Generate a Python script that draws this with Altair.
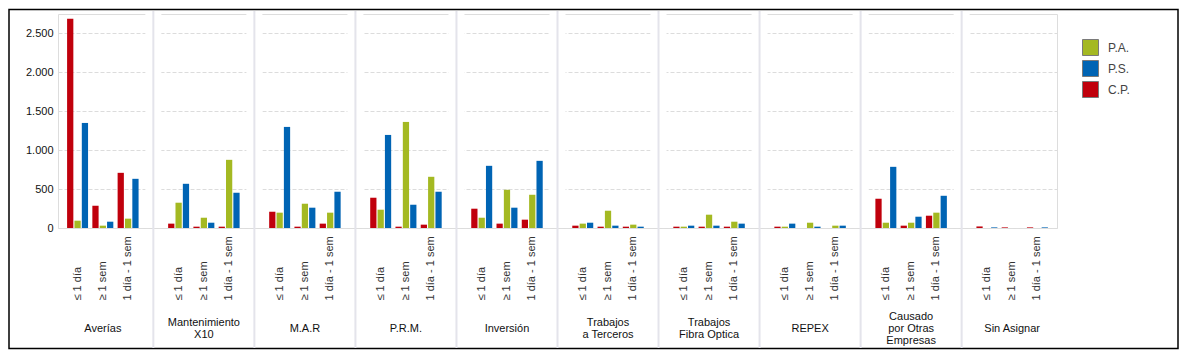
import altair as alt
import pandas as pd

categories = ["Averías", "Mantenimiento|X10", "M.A.R", "P.R.M.", "Inversión",
              "Trabajos|a Terceros", "Trabajos|Fibra Optica", "REPEX",
              "Causado|por Otras|Empresas", "Sin Asignar"]
periods = ["≤ 1 día", "≥ 1 sem", "1 día - 1 sem"]
bar_order = ["C.P.", "P.A.", "P.S."]
legend_order = ["P.A.", "P.S.", "C.P."]
legend_colors = ["#a4b922", "#0064b4", "#c0000c"]

# values per category, in period order (≤ 1 día, ≥ 1 sem, 1 día - 1 sem)
cp_values = [2690, 286, 709,  56, 17, 17,  209, 17, 56,  389, 17, 43,
             248, 56, 107,  30, 17, 17,  17, 17, 17,  17, 0, 0,
             376, 30, 158,  20, 8, 8]
pa_values = [94, 30, 120,  325, 132, 876,  197, 312, 197,  235, 1363, 658,
             132, 491, 427,  56, 222, 43,  17, 171, 81,  17, 68, 30,
             68, 68, 197,  0, 0, 0]
ps_values = [1350, 81, 632,  568, 68, 453,  1299, 261, 466,  1196, 299, 466,
             799, 261, 863,  68, 30, 17,  30, 30, 56,  56, 17, 30,
             786, 145, 414,  8, 0, 8]
y_ticks = [0, 500, 1000, 1500, 2000, 2500]

H = 214
W = 999
FONT = "Liberation Sans"

domain = []
for i in range(len(categories)):
    for p in periods:
        domain.append(f"{i}|{p}")
    if i < len(categories) - 1:
        domain.append(f"gap{i}")

rows = []
for i in range(len(categories)):
    for j, p in enumerate(periods):
        k = i * 3 + j
        for s, vals in zip(["C.P.", "P.A.", "P.S."], [cp_values, pa_values, ps_values]):
            rows.append({"key": f"{i}|{p}", "series": s, "value": vals[k]})
df = pd.DataFrame(rows)

gap_df = pd.DataFrame({"key": [f"gap{i}" for i in range(len(categories) - 1)]})
cat_df = pd.DataFrame({"key": [f"{i}|{periods[1]}" for i in range(len(categories))],
                       "label": categories})
one_df = pd.DataFrame({"a": [0]})

xscale = alt.Scale(domain=domain, paddingInner=0.17, paddingOuter=0.36)

frame = alt.Chart(one_df).mark_rect(fillOpacity=0, stroke="black", strokeWidth=1.5).encode(
    x=alt.value(-49), x2=alt.value(1120), y=alt.value(-4.5), y2=alt.value(334.5)
)

bars = alt.Chart(df).mark_bar().encode(
    x=alt.X("key:N", scale=xscale, title=None,
            axis=alt.Axis(labelExpr="split(datum.value, '|')[1] || ''",
                          labelAngle=270, labelAlign="left", labelBaseline="middle",
                          labelPadding=72, ticks=False, domain=False,
                          labelFont=FONT, labelFontSize=11, labelColor="#333333",
                          labelOverlap=False)),
    xOffset=alt.XOffset("series:N",
                        scale=alt.Scale(domain=bar_order, paddingInner=0.15, paddingOuter=0)),
    y=alt.Y("value:Q", scale=alt.Scale(domain=[0, 2750], nice=False), title=None,
            axis=alt.Axis(values=y_ticks,
                          labelExpr="replace(format(datum.value, ','), ',', '.')",
                          ticks=False, domain=False, labelPadding=5,
                          labelFont=FONT, labelFontSize=11, labelColor="#111111",
                          gridDash=[4, 2], gridColor="#dcdcdc")),
    color=alt.Color("series:N",
                    scale=alt.Scale(domain=legend_order, range=legend_colors),
                    legend=alt.Legend(title=None, orient="none", legendX=1024, legendY=25,
                                      symbolType="square", symbolSize=256,
                                      symbolStrokeColor="#7a7a7a", symbolStrokeWidth=1,
                                      labelFont=FONT, labelFontSize=12, labelColor="#444444",
                                      rowPadding=0, labelOffset=9)),
)

gap_cover = alt.Chart(gap_df).mark_bar(color="white", width=16).encode(
    x=alt.X("key:N", scale=xscale), y=alt.value(0), y2=alt.value(H)
)

separators = alt.Chart(gap_df).mark_rule(color="#e4e4eb", strokeWidth=2).encode(
    x=alt.X("key:N", scale=xscale), y=alt.value(-3), y2=alt.value(334)
)


def label_layer(n_lines):
    return alt.Chart(cat_df).transform_filter(
        f"length(split(datum.label, '|')) == {n_lines}"
    ).mark_text(
        lineBreak="|", align="center", baseline="middle", font=FONT, fontSize=11,
        lineHeight=12, color="#111111"
    ).encode(
        x=alt.X("key:N", scale=xscale),
        y=alt.value(H + 100.75 - 6 * (n_lines - 1)),
        text="label:N",
    )


chart = alt.layer(frame, gap_cover, bars, separators,
                  label_layer(1), label_layer(2), label_layer(3)).properties(
    width=W, height=H, padding=0
).configure_view(strokeWidth=0).configure(background="white")

chart.save("out.html", embed_options={"renderer": "svg", "actions": False})
